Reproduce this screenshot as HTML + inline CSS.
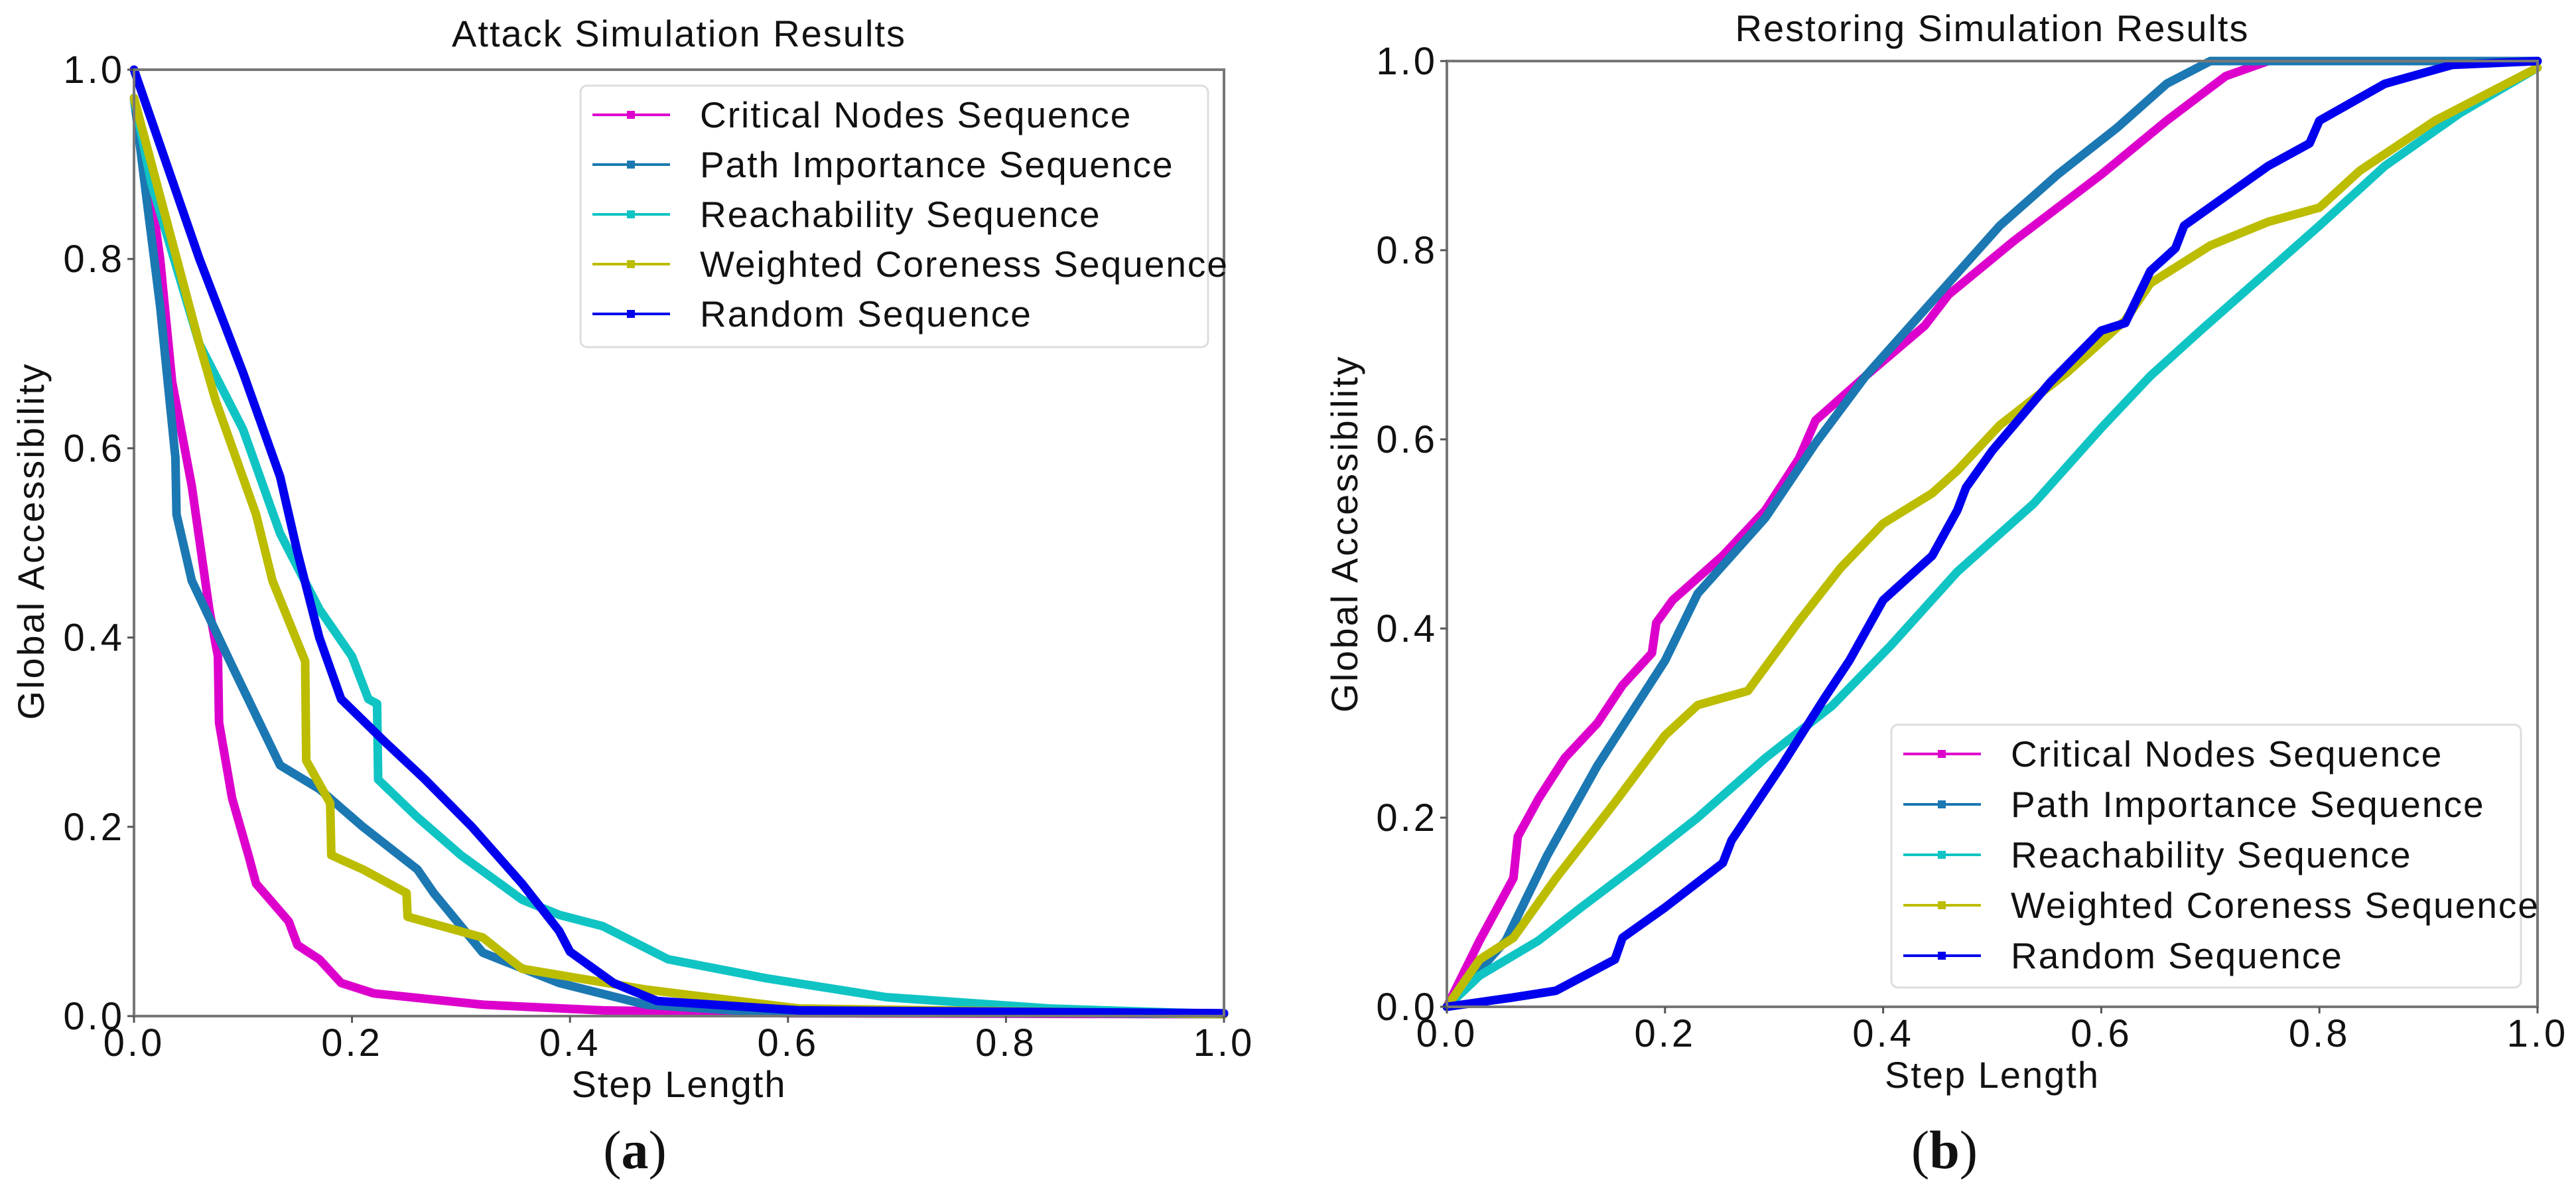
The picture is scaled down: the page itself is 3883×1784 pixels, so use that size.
<!DOCTYPE html>
<html><head><meta charset="utf-8"><style>
html,body{margin:0;padding:0;background:#fff;}
svg{display:block;}
text{font-family:"WenQuanYi Zen Hei","Liberation Sans",sans-serif;fill:#111;}
</style></head><body>
<svg id="fig" width="3883" height="1784" viewBox="0 0 3883 1784" xmlns="http://www.w3.org/2000/svg"></svg>
<script>
const seriesNames=["Critical Nodes Sequence","Path Importance Sequence","Reachability Sequence","Weighted Coreness Sequence","Random Sequence"];
const seriesColors=["#dd00cc","#1b78b2","#10c4c4","#bcbc00","#0000ee"];
const ticks=[0,0.2,0.4,0.6,0.8,1.0];
const tickLabels=["0.0","0.2","0.4","0.6","0.8","1.0"];
// Attack (a)
const aCritX=[0,0.012,0.024,0.035,0.053,0.069,0.077,0.078,0.09,0.105,0.112,0.142,0.15,0.17,0.19,0.22,0.32,0.43,0.6,1];
const aCritY=[0.97,0.9,0.8,0.67,0.56,0.43,0.38,0.31,0.23,0.17,0.14,0.10,0.075,0.06,0.035,0.024,0.012,0.006,0.003,0.002];
const aPathX=[0,0.013,0.024,0.038,0.039,0.053,0.09,0.134,0.17,0.21,0.26,0.275,0.32,0.39,0.47,0.55,1];
const aPathY=[0.97,0.85,0.75,0.59,0.53,0.46,0.37,0.265,0.24,0.2,0.155,0.13,0.067,0.035,0.012,0.006,0.002];
const aReachX=[0,0.016,0.06,0.1,0.134,0.17,0.2,0.215,0.223,0.224,0.26,0.30,0.356,0.39,0.43,0.49,0.58,0.69,0.84,1];
const aReachY=[0.97,0.88,0.71,0.62,0.51,0.43,0.38,0.335,0.33,0.25,0.21,0.17,0.123,0.107,0.095,0.06,0.04,0.02,0.008,0.002];
const aWcX=[0,0.03,0.06,0.075,0.112,0.127,0.157,0.158,0.18,0.181,0.21,0.25,0.251,0.32,0.356,0.47,0.61,1];
const aWcY=[0.97,0.84,0.71,0.65,0.53,0.46,0.375,0.27,0.225,0.17,0.155,0.13,0.105,0.083,0.05,0.028,0.008,0.002];
const aRandX=[0,0.024,0.06,0.1,0.134,0.15,0.17,0.19,0.23,0.267,0.31,0.356,0.39,0.4,0.44,0.48,0.61,1];
const aRandY=[1.0,0.92,0.80,0.68,0.57,0.49,0.40,0.335,0.29,0.25,0.20,0.14,0.09,0.068,0.035,0.016,0.006,0.003];
// Restoring (b)
const bCritX=[0,0.03,0.061,0.065,0.084,0.108,0.138,0.161,0.188,0.192,0.207,0.253,0.292,0.323,0.338,0.384,0.438,0.46,0.52,0.6,0.66,0.714,0.753,1];
const bCritY=[0,0.07,0.136,0.18,0.22,0.263,0.30,0.34,0.374,0.406,0.43,0.477,0.525,0.58,0.62,0.667,0.72,0.753,0.81,0.88,0.937,0.984,1,1];
const bPathX=[0,0.054,0.092,0.138,0.2,0.23,0.292,0.338,0.384,0.445,0.507,0.56,0.614,0.66,0.7,1];
const bPathY=[0,0.07,0.16,0.255,0.366,0.437,0.517,0.596,0.667,0.746,0.826,0.88,0.929,0.976,1,1];
const bReachX=[0,0.03,0.084,0.123,0.177,0.23,0.292,0.353,0.407,0.468,0.538,0.6,0.645,0.691,0.753,0.8,0.86,0.929,1];
const bReachY=[0,0.033,0.07,0.105,0.152,0.2,0.263,0.318,0.382,0.46,0.532,0.612,0.667,0.715,0.778,0.826,0.889,0.945,0.993];
const bWcX=[0,0.03,0.061,0.1,0.154,0.2,0.23,0.276,0.323,0.361,0.4,0.445,0.468,0.507,0.568,0.622,0.645,0.7,0.753,0.8,0.837,0.906,1];
const bWcY=[0,0.05,0.073,0.136,0.216,0.287,0.319,0.334,0.408,0.464,0.511,0.543,0.567,0.615,0.67,0.726,0.765,0.805,0.83,0.845,0.884,0.937,0.993];
const bRandX=[0,0.061,0.1,0.154,0.161,0.2,0.253,0.261,0.307,0.346,0.369,0.4,0.445,0.468,0.476,0.5,0.553,0.6,0.622,0.645,0.668,0.676,0.753,0.791,0.8,0.86,0.922,1];
const bRandY=[0,0.01,0.017,0.05,0.073,0.105,0.152,0.176,0.255,0.326,0.366,0.43,0.477,0.525,0.549,0.588,0.66,0.715,0.723,0.778,0.802,0.826,0.889,0.913,0.937,0.976,0.996,1];

const NS="http://www.w3.org/2000/svg";
const svg=document.getElementById('fig');
function mk(tag,attrs,parent){const e=document.createElementNS(NS,tag);for(const k in attrs)e.setAttribute(k,attrs[k]);(parent||svg).appendChild(e);return e;}

function panel(cfg){
  const g=mk('g',{});
  
  
  const sx=v=>cfg.x0+v*(cfg.x1-cfg.x0);
  const sy=v=>cfg.y0-v*(cfg.y0-cfg.y1);
  // series
  const order=[0,1,2,3,4];
  order.forEach(i=>{
    const xs=cfg.data[i][0], ys=cfg.data[i][1];
    const pts=xs.map((x,j)=>sx(x).toFixed(1)+','+sy(ys[j]).toFixed(1)).join(' ');
    const p=mk('polyline',{points:pts,fill:'none',stroke:seriesColors[i],'stroke-width':13,'stroke-linejoin':'round','stroke-linecap':'round'},g);
    
    
  });
  // frame
  const fr=mk('rect',{x:cfg.x0,y:cfg.y1,width:cfg.x1-cfg.x0,height:cfg.y0-cfg.y1,fill:'none',stroke:'#777','stroke-width':4},g);
  
  
  ticks.forEach((t,i)=>{
    mk('line',{x1:sx(t),x2:sx(t),y1:cfg.y0,y2:cfg.y0+10,stroke:'#555','stroke-width':3},g);
    const tx=mk('text',{x:sx(t),y:cfg.y0+60,'font-size':58,'text-anchor':'middle','letter-spacing':4},g);
    tx.textContent=tickLabels[i];
    
    
    mk('line',{x1:cfg.x0-10,x2:cfg.x0,y1:sy(t),y2:sy(t),stroke:'#555','stroke-width':3},g);
    const ty=mk('text',{x:cfg.x0-14,y:sy(t)+20,'font-size':58,'text-anchor':'end','letter-spacing':4},g);
    ty.textContent=tickLabels[i];
    
    
  });
  const ti=mk('text',{x:(cfg.x0+cfg.x1)/2,y:cfg.titleY,'font-size':56,'text-anchor':'middle','letter-spacing':2},g);
  ti.textContent=cfg.title;
  
  
  const xl=mk('text',{x:(cfg.x0+cfg.x1)/2,y:cfg.y0+122,'font-size':56,'text-anchor':'middle','letter-spacing':2},g);
  xl.textContent='Step Length';
  
  
  const yl=mk('text',{x:0,y:0,'font-size':56,'text-anchor':'middle','letter-spacing':3,transform:'translate('+(cfg.ylx)+','+cfg.yly+') rotate(-90)'},g);
  yl.textContent='Global Accessibility';
  
  
  const cap=mk('text',{x:cfg.capX,y:1760,'font-size':82,'text-anchor':'middle',style:'font-family:"Liberation Serif",serif'},g);
  cap.innerHTML='(<tspan font-weight="bold">'+cfg.cap+'</tspan>)';
  
  
  // legend
  const L=cfg.leg;
  const lg=mk('g',{},g);
  
  
  mk('rect',{x:L.x,y:L.y,width:L.w,height:L.h,rx:10,fill:'#fff','fill-opacity':0.85,stroke:'#ddd','stroke-width':3},lg);
  seriesNames.forEach((n,i)=>{
    const yy=L.y+44+i*L.dy;
    const e=mk('g',{},lg);
    
    
    mk('line',{x1:L.x+18,x2:L.x+135,y1:yy,y2:yy,stroke:seriesColors[i],'stroke-width':4},e);
    mk('rect',{x:L.x+70,y:yy-6,width:12,height:12,fill:seriesColors[i]},e);
    const t=mk('text',{x:L.x+180,y:yy+19,'font-size':55,'letter-spacing':2},e);
    t.textContent=n;
  });
}
panel({id:'attack-chart',x0:202,x1:1845,y0:1531,y1:105,title:'Attack Simulation Results',titleY:70,ylx:66,yly:815,capX:957,cap:'a',
  data:[[aCritX,aCritY],[aPathX,aPathY],[aReachX,aReachY],[aWcX,aWcY],[aRandX,aRandY]],
  leg:{x:875,y:129,w:946,h:394,dy:75}});
panel({id:'restoring-chart',x0:2181,x1:3825,y0:1517,y1:92,title:'Restoring Simulation Results',titleY:62,ylx:2046,yly:804,capX:2931,cap:'b',
  data:[[bCritX,bCritY],[bPathX,bPathY],[bReachX,bReachY],[bWcX,bWcY],[bRandX,bRandY]],
  leg:{x:2851,y:1092,w:949,h:396,dy:76}});
</script>
</body></html>
